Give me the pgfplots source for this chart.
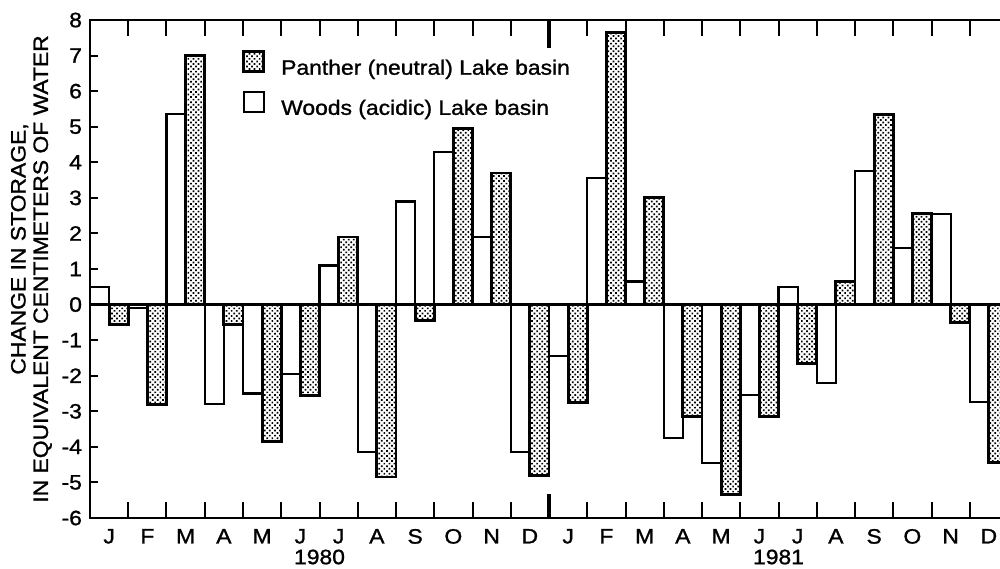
\documentclass[border=0pt]{standalone}
\usepackage{fontspec}
\setmainfont{Liberation Sans}[FakeStretch=1.1, FakeBold=1.2]
\usepackage{pgfplots}
\usepackage{pgfplotstable}
\pgfplotsset{compat=1.18}
\usetikzlibrary{patterns.meta}

\tikzdeclarepattern{
  name=stipple,
  type=uncolored,
  bounding box={(-0.9pt,-0.9pt) and (0.9pt,0.9pt)},
  tile size={(1.8pt,1.8pt)},
  tile transformation={rotate=45},
  code={\fill (0pt,0pt) circle (0.6pt);}
}

\pgfplotsset{sqlegend/.style={legend image code/.code={\draw[##1] (0pt,-1.5pt) rectangle (10pt,8.5pt);}}}

\pgfplotstableread{
m woods panther
0 0.5 -0.55
1 -0.1 -2.8
2 5.35 7.0
3 -2.8 -0.55
4 -2.5 -3.85
5 -1.95 -2.55
6 1.1 1.9
7 -4.15 -4.85
8 2.9 -0.45
9 4.3 4.95
10 1.9 3.7
11 -4.15 -4.8
12 -1.45 -2.75
13 3.55 7.65
14 0.65 3.0
15 -3.75 -3.15
16 -4.45 -5.35
17 -2.55 -3.15
18 0.5 -1.65
19 -2.2 0.65
20 3.75 5.35
21 1.6 2.55
22 2.55 -0.5
23 -2.75 -4.45
}\datatable

\newcommand{\lab}{\fontsize{10.4}{11.2}\selectfont}

\begin{document}
\begin{tikzpicture}
\begin{axis}[
  at={(0pt,0pt)}, anchor=south west,
  scale only axis, width=459pt, height=249pt,
  xmin=0, xmax=24, ymin=-6, ymax=8,
  clip=false,
  axis line style={line width=1.25pt},
  tick align=inside,
  xtick={0,...,24},
  xticklabels={J,F,M,A,M,J,J,A,S,O,N,D,J,F,M,A,M,J,J,A,S,O,N,D,},
  xticklabel style={xshift=9.5625pt, yshift=-2pt},
  xtick style={line width=1pt, black, /pgfplots/major tick length=8pt},
  ytick={-6,...,8},
  yticklabels={-6,-5,-4,-3,-2,-1,0,1,2,3,4,5,6,7,8},
  ytick style={line width=1pt, black, /pgfplots/major tick length=4pt},
  yticklabel style={xshift=-0.5pt},
  tick label style={font=\lab},
  extra y ticks={0}, extra y tick labels={},
  extra y tick style={grid=major, major grid style={black, line width=1pt}},
  ylabel={\hspace*{20pt}CHANGE IN STORAGE,\\IN EQUIVALENT CENTIMETERS OF WATER},
  ylabel style={font=\lab, align=center, at={(axis description cs:-0.0638,0.5)}, anchor=center},
  reverse legend,
  legend cell align=left,
  legend style={draw=none, fill=none, font=\lab, at={(axis description cs:0.1656,0.94)}, anchor=north west,
    inner sep=0pt, row sep=6.5pt, column sep=8pt, nodes={inner sep=0pt}},
]
\addplot[ybar, bar width=0.5, bar shift=0pt, draw=black, line width=1.1pt, fill=white, sqlegend]
  table[x expr=\thisrow{m}+0.25, y=woods] {\datatable};
\addlegendentry{Woods (acidic) Lake basin}
\addplot[ybar, bar width=0.5, bar shift=0pt, draw=black, line width=1.4pt, pattern=stipple, pattern color=black, sqlegend]
  table[x expr=\thisrow{m}+0.75, y=panther] {\datatable};
\addlegendentry{Panther (neutral) Lake basin}
\draw[line width=2.2pt] (axis cs:12,-6) -- ++(0pt,12pt);
\draw[line width=2.2pt] (axis cs:12,8) -- ++(0pt,-14pt);
\node[font=\lab] at (axis cs:6,-6) [yshift=-19.5pt] {1980};
\node[font=\lab] at (axis cs:18,-6) [yshift=-19.5pt] {1981};
\end{axis}
\pgfresetboundingbox
\path[use as bounding box] (-45pt,-25pt) rectangle (455pt,259pt);
\end{tikzpicture}
\end{document}
